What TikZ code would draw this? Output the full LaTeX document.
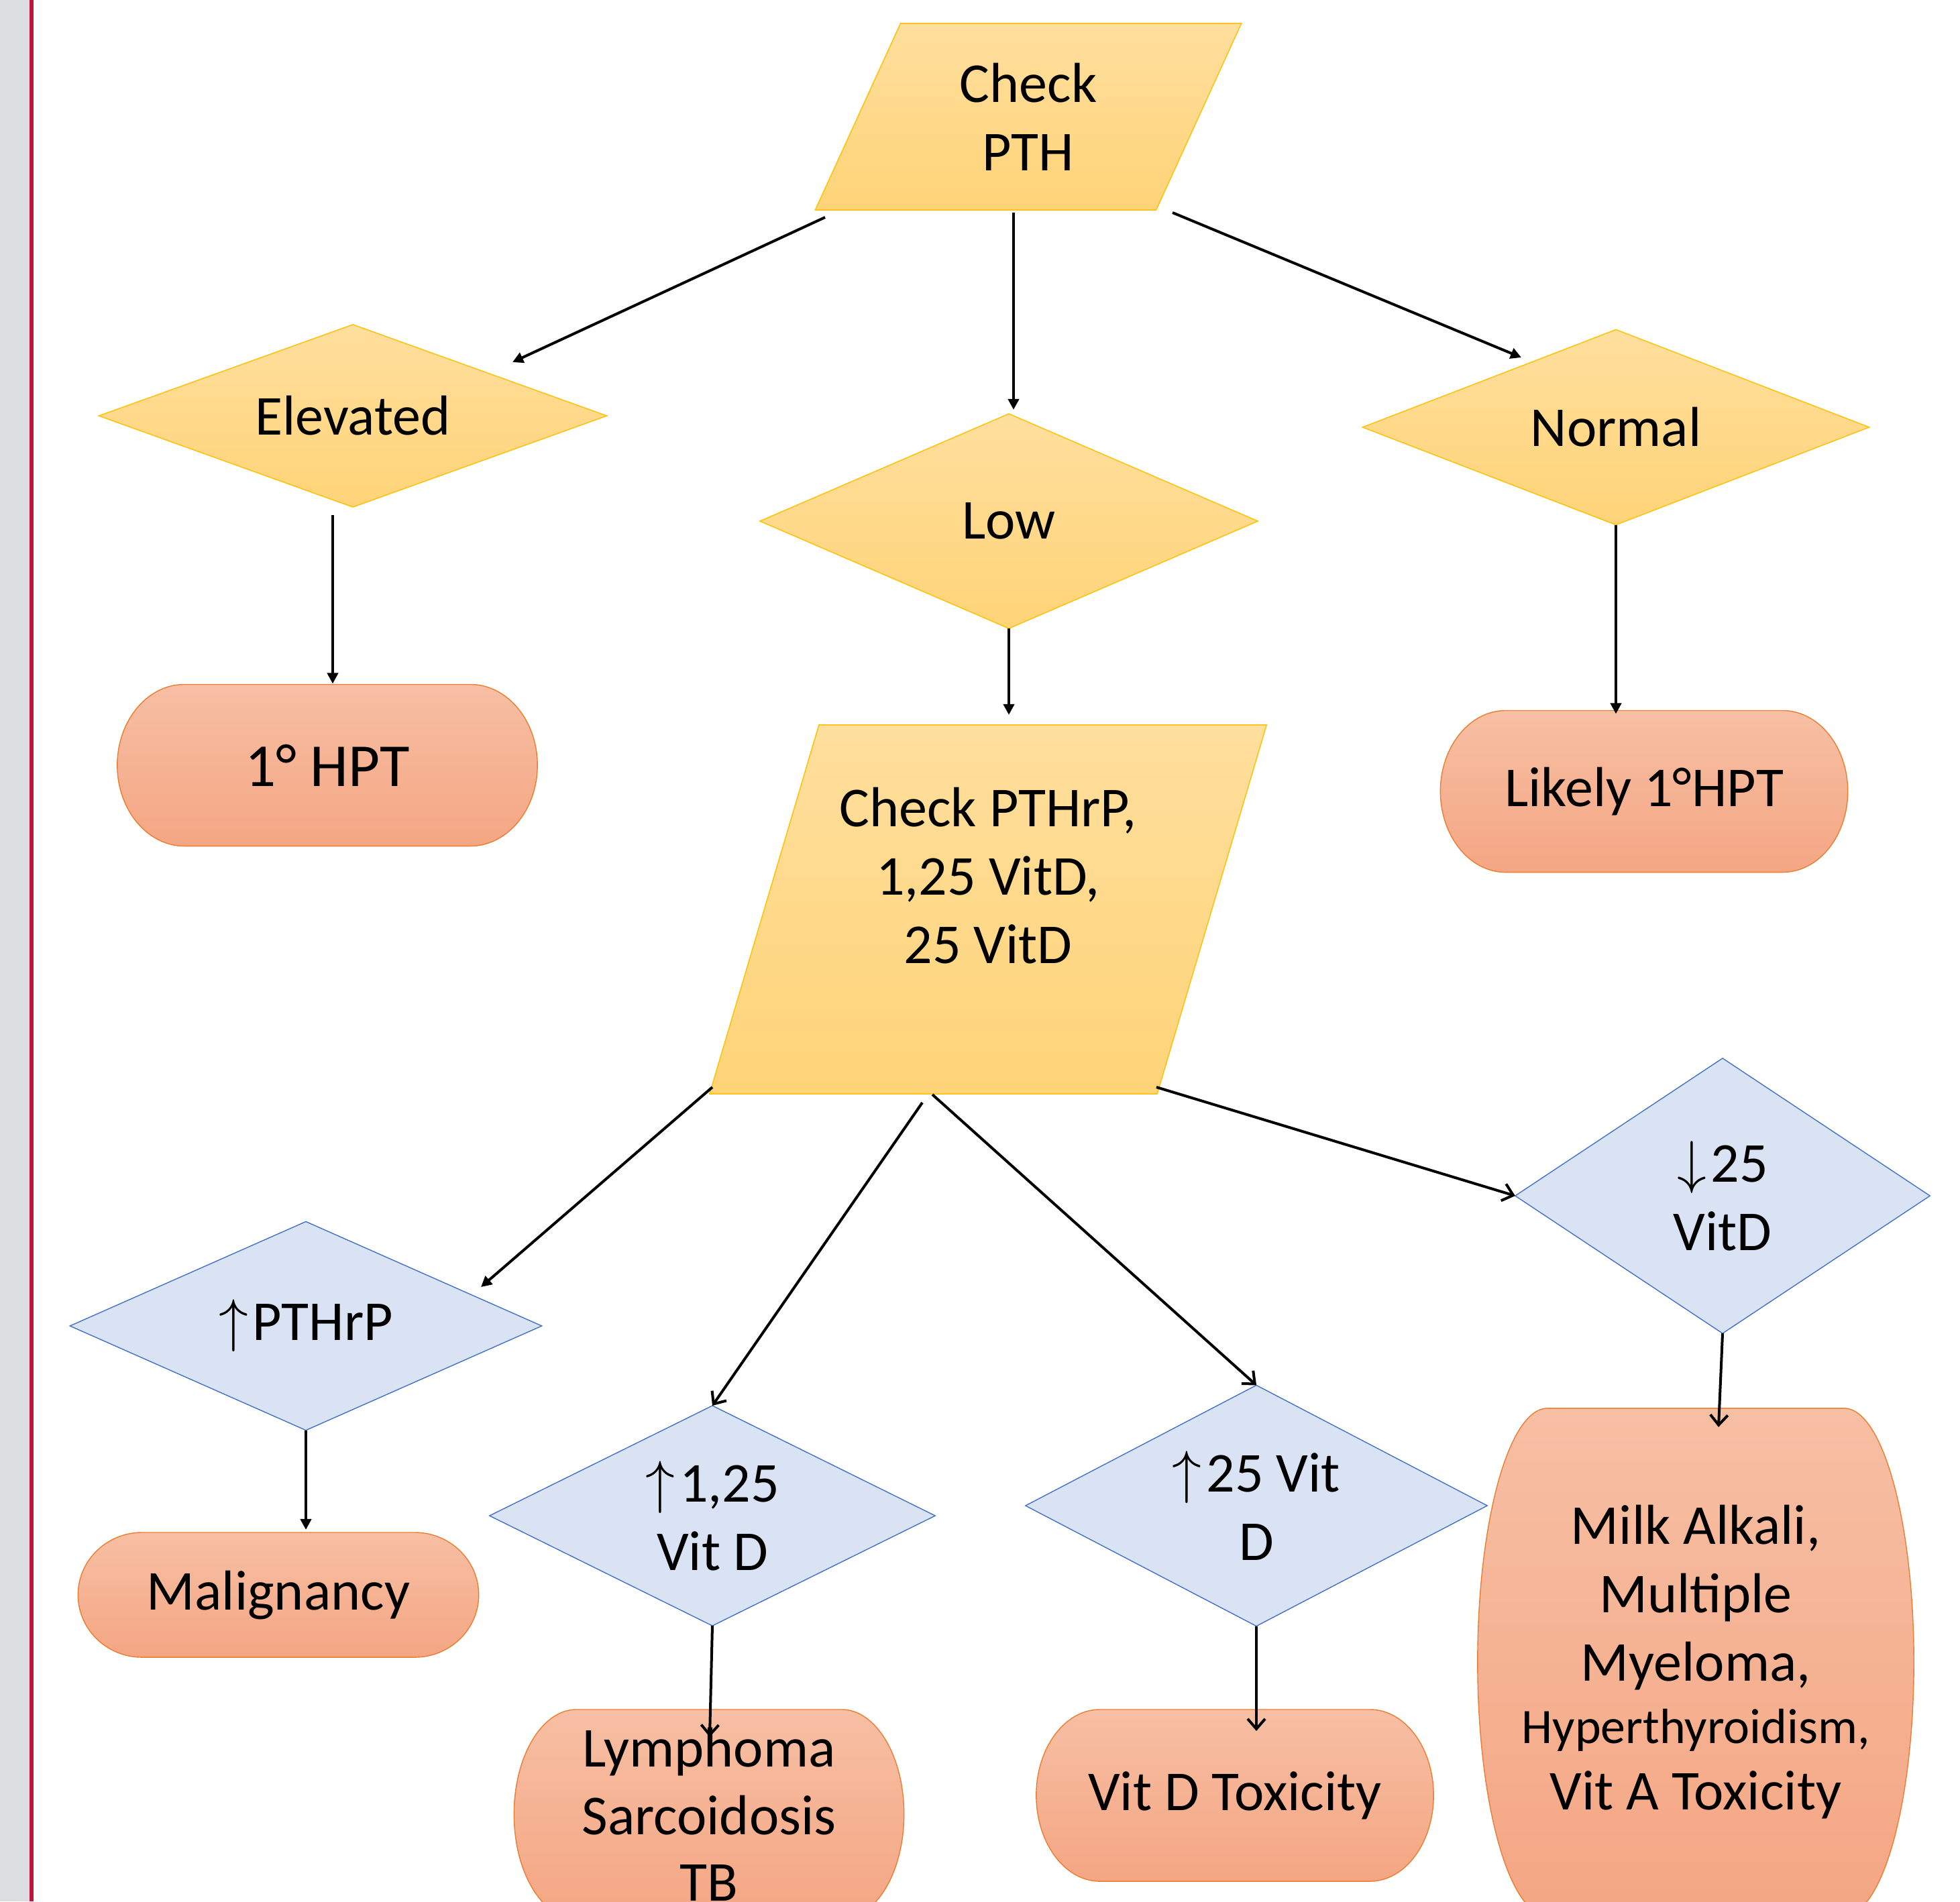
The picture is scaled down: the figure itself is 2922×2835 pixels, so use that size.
\documentclass[tikz,border=0pt]{standalone}
\usepackage{fontspec}
\setmainfont{Carlito}
\usetikzlibrary{shapes.geometric,arrows.meta,backgrounds,calc}

\definecolor{ytop}{HTML}{FFDF9E}
\definecolor{ybot}{HTML}{FFD478}
\definecolor{yline}{HTML}{FFC000}
\definecolor{otop}{HTML}{F7BFA4}
\definecolor{obot}{HTML}{F4A683}
\definecolor{oline}{HTML}{ED7D31}
\definecolor{bfill}{HTML}{DAE3F3}
\definecolor{bline}{HTML}{4472C4}
\definecolor{sidegray}{HTML}{DCDDE0}
\definecolor{sidered}{HTML}{C0143C}

\newcommand{\uparw}{$\uparrow$\kern2pt}
\newcommand{\dnarw}{$\downarrow$\kern2pt}

\tikzset{
  inbox/.style={rectangle, inner sep=0pt, outer sep=0pt, align=center},
  inboxfill/.style={draw=yline, top color=ytop, bottom color=ybot},
  ydec/.style={diamond, draw=yline, top color=ytop, bottom color=ybot, inner sep=0pt, outer sep=0pt, align=center},
  bdec/.style={diamond, draw=bline, fill=bfill, inner sep=0pt, outer sep=0pt, align=center},
  term/.style={rectangle, inner sep=0pt, outer sep=0pt, align=center},
  termfill/.style={draw=oline, top color=otop, bottom color=obot},
  filledarrow/.style={-{Triangle[length=0.16cm,width=0.16cm]}, line width=0.04cm},
  openarrow/.style={-{Straight Barb[length=0.15cm,width=0.26cm]}, line width=0.04cm}
}

\begin{document}
\begin{tikzpicture}[x=0.01cm, y=-0.01cm, font=\fontsize{23.9}{29}\selectfont]
      \useasboundingbox (0,0) rectangle (2922,2835);
      \fill[sidegray] (0,0) rectangle (44,2835);
      \fill[sidered] (44,0) rectangle (50,2835);

      \node (pth) [inbox, minimum width=6.35cm, minimum height=2.78cm] at (1533,174) {Check\\PTH};
      \node (elev) [ydec, aspect=2.78, minimum width=7.57cm, minimum height=2.72cm] at (526,620) {Elevated};
      \node (low) [ydec, aspect=2.32, minimum width=7.42cm, minimum height=3.20cm] at (1504,777) {Low};
      \node (norm) [ydec, aspect=2.59, minimum width=7.55cm, minimum height=2.91cm] at (2409,637) {Normal};
      \node (hpt) [term, font=\fontsize{25.9}{31}\selectfont, minimum width=6.26cm, minimum height=2.41cm] at (488,1141) {1° HPT};
      \node (likely) [term, minimum width=6.07cm, minimum height=2.41cm] at (2451,1180) {Likely 1°HPT};
      \node (pthrp) [inbox, minimum width=8.30cm, minimum height=5.50cm,
        label={[align=center, yshift=0.50cm]center:{Check PTHrP,\\1,25 VitD,\\25 VitD}}] at (1473,1356) {};
      \node (hipthrp) [bdec, aspect=2.26, minimum width=7.03cm, minimum height=3.11cm] at (456,1977) {\uparw PTHrP};
      \node (hi125) [bdec, aspect=2.02, minimum width=6.64cm, minimum height=3.28cm] at (1062,2260) {\uparw1,25\\Vit D};
      \node (hi25) [bdec, aspect=1.92, minimum width=6.88cm, minimum height=3.59cm] at (1873,2245) {\uparw25 Vit\\D};
      \node (lo25) [bdec, aspect=1.51, minimum width=6.18cm, minimum height=4.10cm] at (2568,1783) {\dnarw25\\VitD};
      \node (malig) [term, minimum width=5.97cm, minimum height=1.86cm] at (415,2378) {Malignancy};
      \node (lymph) [term, minimum width=5.81cm, minimum height=3.12cm] at (1057,2705) {Lymphoma\\Sarcoidosis\\[-1pt]TB};
      \node (vittox) [term, minimum width=5.92cm, minimum height=2.56cm] at (1841,2677) {Vit D Toxicity};
      \node (milk) [term, minimum width=6.50cm, minimum height=7.56cm] at (2528,2478) {Milk Alkali,\\Multiple\\Myeloma,\\[-2.5pt]{\fontsize{21}{26}\selectfont Hyperthyroidism,}\\[-1pt]Vit A Toxicity};

      % slanted boxes and rounded end boxes behind their text
      \begin{scope}[on background layer]
        \foreach \nm/\sl in {pth/1.27cm,pthrp/1.63cm}
          \path[inboxfill] let \p1=(\nm.north west), \p2=(\nm.south east) in
            (\x1+\sl,\y1) -- (\x2,\y1) -- (\x2-\sl,\y2) -- (\x1,\y2) -- cycle;
        \foreach \nm in {hpt,likely,malig,lymph,vittox,milk}
          \path[termfill] let \p1=(\nm.north west), \p2=(\nm.south east), \n1={0.16*(\x2-\x1)}, \n2={0.5*(\y1-\y2)} in
            (\x1+\n1,\y1) -- (\x2-\n1,\y1) arc[start angle=90, end angle=-90, x radius=\n1, y radius=\n2]
            -- (\x1+\n1,\y2) arc[start angle=-90, end angle=-270, x radius=\n1, y radius=\n2] -- cycle;
      \end{scope}

      \draw[filledarrow] ([shift={(-303,150)}]pth.center) -- ([shift={(238,-80)}]elev.center);
      \draw[filledarrow] ([shift={(-22,4)}]pth.south) -- ([shift={(7,-6)}]low.north);
      \draw[filledarrow] ([shift={(215,143)}]pth.center) -- ([shift={(-141,-104)}]norm.center);
      \draw[filledarrow] ([shift={(-30,12)}]elev.south) -- ([shift={(8,-1)}]hpt.north);
      \draw[filledarrow] (low.south) -- ([shift={(31,-15)}]pthrp.north);
      \draw[filledarrow] (norm.south) -- ([shift={(-42,5)}]likely.north);
      \draw[filledarrow] ([shift={(-411,265)}]pthrp.center) -- ([shift={(261,-58)}]hipthrp.center);
      \draw[openarrow] ([shift={(-98,288)}]pthrp.center) -- (hi125.north);
      \draw[openarrow] ([shift={(-83,276)}]pthrp.center) -- (hi25.north);
      \draw[openarrow] ([shift={(251,265)}]pthrp.center) -- (lo25.west);
      \draw[filledarrow] (hipthrp.south) -- ([shift={(41,-4)}]malig.north);
      \draw[openarrow] (hi125.south) -- ([shift={(1,41)}]lymph.north);
      \draw[openarrow] (hi25.south) -- ([shift={(32,32)}]vittox.north);
      \draw[openarrow] (lo25.south) -- ([shift={(34,28)}]milk.north);
\end{tikzpicture}
\end{document}
